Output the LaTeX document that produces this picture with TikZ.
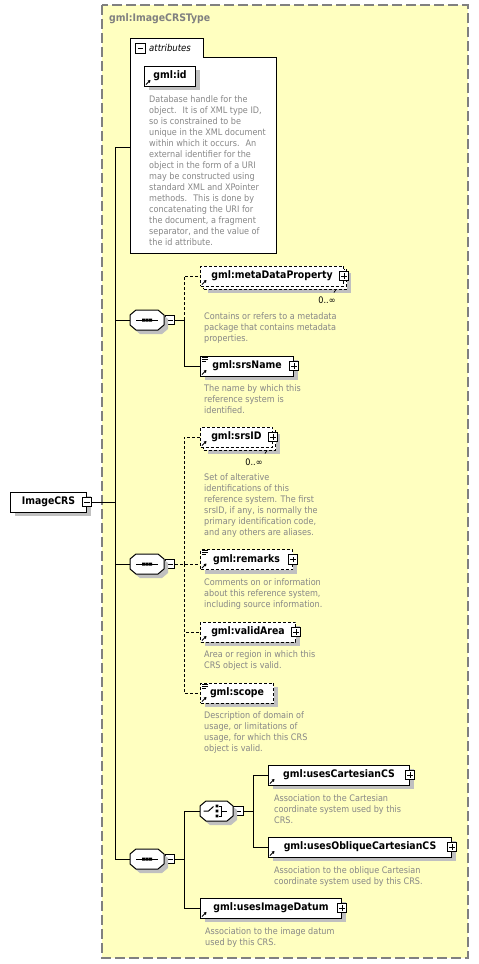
\documentclass[tikz,border=0pt]{standalone}
\usepackage{fontspec}
\setmainfont{DejaVu Sans Condensed}
\usetikzlibrary{positioning,shadows,arrows.meta}

\definecolor{typefill}{RGB}{255,255,192}
\definecolor{typeline}{RGB}{128,128,128}
\definecolor{docgray}{RGB}{135,135,135}
\definecolor{shadowgray}{RGB}{192,192,192}

\newcommand{\elemfont}{\fontsize{10.4}{12}\selectfont\bfseries}
\newcommand{\docfont}{\fontsize{9}{11}\selectfont}

\newcommand{\refmark}[1]{\draw[line width=1pt, -{Triangle[length=2.5pt,width=3pt]}] ([shift={(2,-2)}]#1.south west) -- ++(4.5,-4.5);}
\newcommand{\textmark}[1]{\draw[line width=0.8pt] ([shift={(2,1.5)}]#1.north west) -- ++(6,0) ([shift={(2,3.5)}]#1.north west) -- ++(6,0) ([shift={(2,5.5)}]#1.north west) -- ++(4,0);}
\newcommand{\octagon}[2]{\fill[shadowgray, shift={(#1.center)}, xshift=4pt, yshift=-4pt] (-#2,-5) -- (-#2+6,-10) -- (#2-6,-10) -- (#2,-5) -- (#2,5) -- (#2-6,10) -- (-#2+6,10) -- (-#2,5) -- cycle;
	\draw[line width=1pt, fill=white, shift={(#1.center)}] (-#2,-5) -- (-#2+6,-10) -- (#2-6,-10) -- (#2,-5) -- (#2,5) -- (#2-6,10) -- (-#2+6,10) -- (-#2,5) -- cycle;}
\newcommand{\seqmark}[1]{\octagon{#1}{17}
	\draw[line width=1pt] ([xshift=-11pt]#1.center) -- ([xshift=11pt]#1.center);
	\fill ([shift={(-5,-1.5)}]#1.center) rectangle ++(3,3) ([shift={(-1.5,-1.5)}]#1.center) rectangle ++(3,3) ([shift={(2,-1.5)}]#1.center) rectangle ++(3,3);}
\newcommand{\choicemark}[1]{\octagon{#1}{16.5}
	\draw[line width=1pt] ([xshift=-13pt]#1.center) -- ++(5,0) -- ++(5,-4.5);
	\fill ([shift={(-0.8,-6.3)}]#1.center) rectangle ++(2.6,2.6) ([shift={(-0.8,-1.3)}]#1.center) rectangle ++(2.6,2.6) ([shift={(-0.8,3.7)}]#1.center) rectangle ++(2.6,2.6);
	\draw[line width=0.8pt] ([shift={(2,-5)}]#1.center) -- ++(2.5,0) -- ++(0,10) -- ++(-2.5,0) ([shift={(4.5,0)}]#1.center) -- ++(5.5,0);}

\tikzset{
	typebox/.style={draw=typeline, fill=typefill, line width=1.2pt, dash pattern=on 10pt off 4pt},
	typename/.style={anchor=west, inner sep=0pt, text=typeline, font=\elemfont},
	boxshadow/.style={general shadow={fill=shadowgray, shadow xshift=4pt, shadow yshift=-4pt}},
	boxbase/.style={draw, fill=white, line width=1pt, minimum height=20pt, inner sep=0pt, anchor=west, font=\elemfont},
	elem/.style={boxbase, boxshadow},
	optelem/.style={elem, dash pattern=on 3pt off 2pt},
	manyelem/.style={boxbase, dash pattern=on 3pt off 2pt,
		general shadow={fill=shadowgray, shadow xshift=7pt, shadow yshift=-7pt},
		general shadow={draw=black, fill=white, dash pattern=on 3pt off 2pt, shadow xshift=3pt, shadow yshift=-3pt}},
	seqbox/.style={minimum width=34pt, minimum height=20pt, inner sep=0pt},
	pmbox/.style={draw, fill=white, line width=0.8pt, minimum size=9.5pt, inner sep=0pt},
	minusbox/.style={pmbox, path picture={\draw[line width=0.8pt] ([xshift=2pt]path picture bounding box.west) -- ([xshift=-2pt]path picture bounding box.east);}},
	plusbox/.style={pmbox, path picture={\draw[line width=0.8pt] ([xshift=2pt]path picture bounding box.west) -- ([xshift=-2pt]path picture bounding box.east) ([yshift=2pt]path picture bounding box.south) -- ([yshift=-2pt]path picture bounding box.north);}},
	doc/.style={anchor=north west, inner sep=0pt, align=left, text=docgray, font=\docfont},
	occurs/.style={inner sep=0pt, font=\docfont},
	wire/.style={line width=1pt},
	optwire/.style={wire, dash pattern=on 3pt off 2pt}
}

\begin{document}
\begin{tikzpicture}[x=1pt, y=-1pt]
	\useasboundingbox (0,0) rectangle (479,964);
	
	\draw[typebox] (102,5) rectangle (468,958);
	\node[typename] (title) at (109,19) {gml:ImageCRSType};
	
	% attributes
	\draw[line width=1pt, fill=white] (130,38) -- (203,38) -- (203,57) -- (276,57) -- (276,253) -- (130,253) -- cycle;
	\node[minusbox] (attrm) at (140.5,48.5) {};
	\node[anchor=west, inner sep=0pt, font=\fontsize{9.5}{11}\selectfont\itshape] (attrname) at (149,48) {attributes};
	\coordinate (attrin) at (130,147);
	\node[elem, minimum width=51pt] (id) at (144,76) {gml:id};
	\node[doc] (iddoc) at (149,95) {Database handle for the\\object.~ It is of XML type ID,\\so is constrained to be\\unique in the XML document\\within which it occurs.~ An\\external identifier for the\\object in the form of a URI\\may be constructed using\\standard XML and XPointer\\methods.~ This is done by\\concatenating the URI for\\the document, a fragment\\separator, and the value of\\the id attribute.};
	
	\node[elem, minimum width=76pt] (crs) at (10,502) {ImageCRS};
	\node[minusbox] (crsm) at (crs.east) {};
	\coordinate (trunk) at (115,502);
	
	% first sequence
	\node[seqbox] (seq1) at (147,320) {};
	\node[minusbox] (seq1m) at (170,320) {};
	\coordinate (fork1) at (184,320);
	\node[manyelem, minimum width=143pt] (meta) at (200,276) {gml:metaDataProperty};
	\node[plusbox] (metap) at (meta.east) {};
	\node[occurs] (metaocc) at (327,300) {0..∞};
	\node[doc] (metadoc) at (204,312) {Contains or refers to a metadata\\package that contains metadata\\properties.};
	\node[elem, minimum width=93pt] (srsname) at (200,366) {gml:srsName};
	\node[plusbox] (srsnamep) at (srsname.east) {};
	\node[doc] (srsnamedoc) at (204,384) {The name by which this\\reference system is\\identified.};
	
	% second sequence
	\node[seqbox] (seq2) at (147,564) {};
	\node[minusbox] (seq2m) at (170,564) {};
	\coordinate (fork2) at (184,564);
	\node[manyelem, minimum width=72pt] (srsid) at (200,437) {gml:srsID};
	\node[plusbox] (srsidp) at (srsid.east) {};
	\node[occurs] (srsidocc) at (254,462) {0..∞};
	\node[doc] (srsiddoc) at (204,473) {Set of alterative\\identifications of this\\reference system. The first\\srsID, if any, is normally the\\primary identification code,\\and any others are aliases.};
	\node[optelem, minimum width=92pt] (remarks) at (200,559.5) {gml:remarks};
	\node[plusbox] (remarksp) at (remarks.east) {};
	\node[doc] (remarksdoc) at (204,578) {Comments on or information\\about this reference system,\\including source information.};
	\node[optelem, minimum width=95pt] (validarea) at (200,632) {gml:validArea};
	\node[plusbox] (validareap) at (validarea.east) {};
	\node[doc] (validareadoc) at (204,650) {Area or region in which this\\CRS object is valid.};
	\node[optelem, minimum width=73pt] (scope) at (200,693) {gml:scope};
	\node[doc] (scopedoc) at (204,711.5) {Description of domain of\\usage, or limitations of\\usage, for which this CRS\\object is valid.};
	
	% third sequence
	\node[seqbox] (seq3) at (147,859) {};
	\node[minusbox] (seq3m) at (170,859) {};
	\coordinate (fork3) at (184,859);
	\node[seqbox, minimum width=33pt] (choice) at (216.5,811) {};
	\node[minusbox] (choicem) at (238.5,811) {};
	\coordinate (fork4) at (253,811);
	\node[elem, minimum width=141pt] (cart) at (268,775) {gml:usesCartesianCS};
	\node[plusbox] (cartp) at (cart.east) {};
	\node[doc] (cartdoc) at (274,794) {Association to the Cartesian\\coordinate system used by this\\CRS.};
	\node[elem, minimum width=183pt] (oblique) at (268,847) {gml:usesObliqueCartesianCS};
	\node[plusbox] (obliquep) at (oblique.east) {};
	\node[doc] (obliquedoc) at (274,866) {Association to the oblique Cartesian\\coordinate system used by this CRS.};
	\node[elem, minimum width=141pt] (datum) at (200,908) {gml:usesImageDatum};
	\node[plusbox] (datump) at (datum.east) {};
	\node[doc] (datumdoc) at (205,927.5) {Association to the image datum\\used by this CRS.};
	
	\draw[wire] (crsm.east) -- (trunk);
	\draw[wire] (trunk) |- (attrin);
	\draw[wire] (trunk) |- (seq1.west);
	\draw[wire] (trunk) |- (seq2.west);
	\draw[wire] (trunk) |- (seq3.west);
	
	\draw[wire] (seq1m.east) -- (fork1);
	\draw[optwire] (fork1) |- (meta.west);
	\draw[wire] (fork1) |- (srsname.west);
	
	\draw[optwire] (seq2m.east) -- (seq2m.east -| remarks.west);
	\draw[optwire] (fork2) |- (srsid.west);
	\draw[optwire] (fork2) |- (validarea.west);
	\draw[optwire] (fork2) |- (scope.west);
	
	\draw[wire] (seq3m.east) -- (fork3);
	\draw[wire] (fork3) |- (choice.west);
	\draw[wire] (fork3) |- (datum.west);
	\draw[wire] (choicem.east) -- (fork4);
	\draw[wire] (fork4) |- (cart.west);
	\draw[wire] (fork4) |- (oblique.west);
	
	\draw[line width=0.8pt] ([shift={(-8,3)}]meta.south east) -- ++(-2,3);
	\draw[line width=0.8pt] ([shift={(-6,3)}]srsid.south east) -- ++(-2,3);
	
	\refmark{id}
	\refmark{meta}
	\refmark{srsname}
	\refmark{srsid}
	\refmark{remarks}
	\refmark{validarea}
	\refmark{scope}
	\refmark{cart}
	\refmark{oblique}
	\refmark{datum}
	\textmark{srsname}
	\textmark{remarks}
	\textmark{scope}
	\seqmark{seq1}
	\seqmark{seq2}
	\seqmark{seq3}
	\choicemark{choice}
	
\end{tikzpicture}
\end{document}
